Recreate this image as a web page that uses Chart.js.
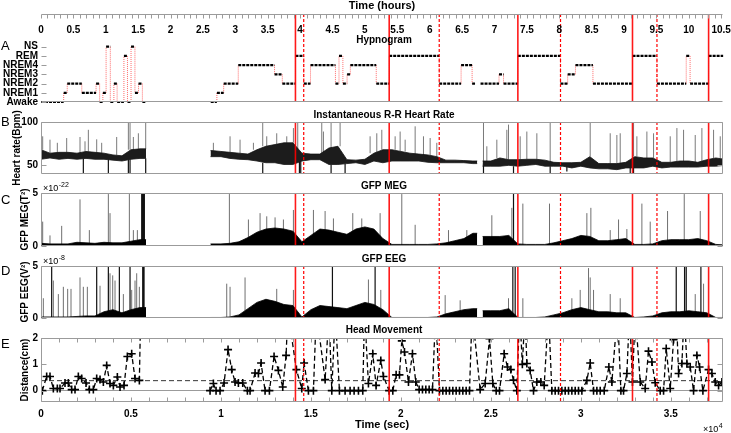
<!DOCTYPE html>
<html><head><meta charset="utf-8">
<script src="https://cdn.jsdelivr.net/npm/chart.js@4.4.1/dist/chart.umd.min.js"></script>
<style>
html,body{margin:0;padding:0;background:#fff;}
#wrap{position:relative;width:731px;height:433px;overflow:hidden;}
#wrap canvas{position:absolute;left:0;top:0;}
</style></head><body>
<div id="wrap">
<canvas id="cA" width="731" height="433"></canvas>
<canvas id="cB" width="731" height="433"></canvas>
<canvas id="cC" width="731" height="433"></canvas>
<canvas id="cD" width="731" height="433"></canvas>
<canvas id="cE" width="731" height="433"></canvas>
</div>
<script>
// ---------------- DATA ----------------
const XMAX = 37900; // seconds shown on the shared time axis
const stageNames = ['Awake','NREM1','NREM2','NREM3','NREM4','REM','NS'];
const remOnsetSec  = [14140, 19350, 26500, 32870, 37100];   // solid red lines
const remOffsetSec = [14600, 22130, 28870, 34230];          // dashed red lines

// hypnogram: stage hypStage[i] holds from hypT[i] to hypT[i+1] (hours)
const hypT = [0,0.35,0.405,0.63,0.85,0.905,0.955,1.005,1.07,1.125,1.175,1.28,1.335,1.39,1.45,1.505,1.565,1.61,2.62,2.715,
  2.82,3.045,3.605,3.725,3.928,4.057,4.16,4.545,4.60,4.66,4.725,4.775,5.175,5.375,6.147,6.485,6.655,6.70,6.785,7.07,
  7.14,7.361,8.019,8.13,8.25,8.52,9.131,9.508,9.96,10.02,10.306,10.53];
const hypStage = ['Awake','NREM1','NREM2','NREM1','NREM2','Awake','NREM1','NS','Awake','NREM2',
  'Awake','REM','Awake','NS','NREM1','NREM2','Awake',null,'Awake','NREM1',
  'NREM2','NREM4','NREM3','NREM2','REM','NREM2','NREM4','NREM2','REM','NREM2',
  'NREM3','NREM4','NREM2','REM','NREM2','NREM4','NREM2',null,'NREM2','NREM3',
  'NREM2','REM','NREM2','NREM3','NREM4','NREM2','REM','NREM2','REM','NREM2','REM'];

// envelope samples every binSec seconds (null = no recording)
const binSec = 500;
const gapsSec = [[5840, 9420], [24240, 24540]];
const hrHi = [68,64,65,65,64,66,65,64,62,61,
  68,69,null,null,null,null,null,null,null,67,
  66,65,64,63,68,72,74,76,76,64,
  63,63,70,72,56.5,56,57,64,68,68,
  66,64,63,62,60,56,56,55.5,55,null,
  55,58.5,56.5,56.5,57,57,56,53.5,53,53,
  53.5,60,52,52,52,53.5,60,58.5,58.5,53.5,
  53.5,55,55,53.5,56.5,58.5,57];
const hrLo = [57,58.5,57,58,57,58,57,57,56,55,
  57,58,null,null,null,null,null,null,null,60,
  60,58,57,56.5,55,53,53,51,51,55,
  56.5,56.5,51,51,52,53,51,55,53,55,
  55,55,55,53.5,53,53,53,53,52,null,
  49,49,50,49,50,51,49,49,49,47,
  49,47,46,46,45,47,47,47,49,47,
  48,48,48,48,49,49,50];
const hrSpikeT = [93,500,908,1427,2168,2353,2446,2631,3095,3372,3743,4206,4855,4855,4948,4948,5133,5411,5818,5818,
  9580,10506,11062,11804,12322,12322,12545,13100,13657,14027,14268,14361,14435,15602,15695,16121,16121,16622,16899,18289,
  18660,18939,19680,19958,20236,20792,21255,21626,21996,24590,24590,24776,25332,25887,25980,26258,26629,26999,27555,28296,
  28296,29223,30520,31632,32002,32188,32744,32929,32929,33114,33670,34041,34967,35338,35709,36357,36727,37376,37747];
const hrSpikeV = [83.5,79.6,76,81.5,82.7,40,77.7,91,80,76,40,82.7,100,40,100,40,82.7,87,100,40,
  76,83.5,79.6,76,100,40,83.5,87,83.5,93,100,40,40,100,89,100,40,99,40,83.5,
  87,91,83.5,89,79.6,95,83.5,81.5,76,100,40,72,79.6,91,97,40,83.5,89,87,100,
  40,43,100,87,85,87,40,100,40,83.5,89,87,83.5,93,91,85,93,91,83.5];

const megBody = [0.25,0.2,0.2,0.2,0.35,0.3,0.25,0.35,0.3,0.3,
  0.45,0.6,null,null,null,null,null,null,null,0.2,
  0.2,0.25,0.4,0.8,1.3,1.6,1.7,1.6,1.4,0.4,
  1.0,1.6,1.5,1.3,1.1,1.6,1.8,1.6,0.7,0.15,
  0.15,0.15,0.15,0.15,0.2,0.3,0.5,0.7,1.2,null,
  0.9,0.9,1.0,0.2,0.15,0.15,0.15,0.3,0.5,0.7,
  1.0,0.9,0.5,0.5,0.6,0.7,0.15,0.15,0.2,0.5,
  0.6,0.6,0.6,0.7,0.5,0.15,0.1];
const megSpikeT = [93,500,1149,2168,2687,3743,3836,4911,5133,5355,5596,5633,5670,5707,5744,
  10469,11526,12174,12545,13008,13471,14027,15139,15788,16251,17326,17826,18845,20050,20792,
  22645,23664,25054,26166,26258,26777,28259,30335,30557,31632,32095,32558,33392,33855,34819,35746,36635];
const megSpikeV = [2.3,1.0,1.9,4.4,1.5,4.9,3.1,4.9,1.5,1.5,5.3,5.3,5.3,5.3,5.3,
  4.9,2.5,3.1,2.8,2.7,2.5,3.4,3.4,3.3,2.6,3.1,2.6,3.1,4.9,2.0,
  1.5,1.5,2.9,3.6,5.0,4.0,4.0,3.1,3.6,1.5,2.5,1.6,4.0,2.3,3.3,4.9,3.3];

const eegBody = [0.1,0.1,0.1,0.1,0.15,0.2,0.2,0.6,0.8,0.5,
  0.8,1.0,null,null,null,null,null,null,null,0.05,
  0.05,0.1,0.3,0.9,1.5,1.8,1.6,1.3,1.2,0.1,
  0.8,1.2,1.1,1.0,0.9,1.2,1.5,1.3,0.8,0.05,
  0.05,0.05,0.05,0.05,0.1,0.4,0.6,0.8,0.9,null,
  0.7,0.7,0.9,0.05,0.05,0.05,0.1,0.3,0.5,0.8,
  1.0,0.8,0.6,0.6,0.5,0.5,0.05,0.1,0.2,0.5,
  0.6,0.6,0.7,0.6,0.5,0.05,0.05];
const eegSpikeT = [130,593,686,964,1242,1482,1668,2168,2353,2576,3095,3280,3743,3836,3984,4114,4355,4577,4948,5040,
  5225,5318,5466,5652,5689,5726,10321,10506,11340,13100,14027,16195,18196,18567,18883,22460,23293,25980,26221,26351,
  26777,29501,29964,30427,30520,30706,31632,32188,35301,35764,35857,36357,36672,36820];
const eegSpikeV = [1.9,5.0,3.6,2.3,3.0,2.8,2.8,3.9,3.0,3.0,5.0,3.1,5.0,4.3,4.1,3.6,5.0,2.3,5.0,2.7,
  3.6,4.3,3.0,5.3,5.3,5.3,3.3,3.0,3.9,2.8,2.7,5.0,3.7,5.0,2.7,2.2,1.7,1.9,5.0,5.0,
  1.9,1.9,2.7,4.8,3.9,2.7,2.3,1.9,5.0,5.0,5.0,2.3,5.0,3.3];

// head movement (cm); values above 2 leave the plotted range
const headT = [74,315,500,686,908,1056,1334,1519,1705,1890,2075,2261,2502,2687,2909,
  3095,3280,3465,3650,3836,4021,4243,4392,4614,4799,5040,5225,5466,5540,7000,
  9395,9580,9728,9950,10173,10395,10599,10784,10970,11211,11470,11618,11896,12082,12230,
  12452,12693,12952,13193,13434,13620,13720,14194,14491,14620,14861,15139,15300,15790,16000,
  16160,16350,16585,16899,17177,17400,17641,17881,17980,18196,18437,18623,18883,19031,19346,
  19550,19735,19921,20050,20199,20421,20643,20829,21014,21199,21385,21570,21755,21930,22144,
  22330,22515,22700,22886,23071,23256,23442,23627,23812,23960,24405,24683,24924,25109,25295,
  25480,25739,25924,26110,26258,26443,26600,26750,26900,26999,27185,27370,27555,27778,27963,
  28204,28389,28574,28759,28945,29130,29315,29501,29686,29871,30057,30335,30520,30706,30891,
  31076,31298,31558,31724,32039,32225,32373,32558,32706,32870,33020,33300,33577,33760,33948,
  34133,34411,34597,34745,34968,35153,35301,35431,35616,35746,35894,36079,36264,36450,36598,
  36783,37098,37284,37469,37654,37840];
const headV = [0,0.54,0.54,0.08,0.08,0.08,0.29,0.29,0.04,0.04,0.54,0.46,0.29,0.04,0.04,
  0.46,0.42,0.33,0.96,0.27,0.2,0.52,0.14,0.2,1.3,1.4,0.46,0.39,3,null,
  0,0.27,0,0,0.29,1.56,0.8,0.33,0.29,0.29,0,0,0.67,0.65,1.05,
  0,0,1.3,0.77,0.14,1.34,3,0.8,0.08,1.05,0,0,3,0.42,3,
  0,3,0,0,0,0,0,0,3,0.27,1.4,0.2,1.15,0.54,0,
  0,0.6,0.6,1.89,1.47,0.33,1.4,0.33,0.04,0.04,0.04,0.04,0.04,3,0,
  0,0,0,0,0,0,0,0,0,3,0.04,0.27,1.97,0.27,0,
  0,1.4,0.9,0.8,0.4,0,3,1.0,3,1.03,0.77,0,0.33,0.33,0.2,
  3,0,0,0,0,0,0,0,0,0,0,0.39,1.05,0,0,
  0,0,0.9,0.33,3,0,0,0.65,3,0.33,3,0.33,0.08,1.5,1.09,
  0.3,0,0,1.6,0.08,1.94,3,0.65,1.03,3,1.03,0.9,0,1.34,0.9,
  0,0.8,0.65,0.33,0.2,0.33];
const headThreshold = 0.38;

// axis tick labels
const hourLabels = [0,0.5,1,1.5,2,2.5,3,3.5,4,4.5,5,5.5,6,6.5,7,7.5,8,8.5,9,9.5,10,10.5];
const secLabelVals = [0,5000,10000,15000,20000,25000,30000,35000];
const secLabelText = ['0','0.5','1','1.5','2','2.5','3','3.5'];
const hrTicks = [50,100];
const gfpTicks = [0,5];
const headTicks = [0,1,2];

// ---------------- BUILDERS ----------------
const GRAY = '#9b9b9b';
function envelope(vals){
  const pts=[]; let prevT=null, prevV=null;
  for(let i=0;i<vals.length;i++){
    const t=i*binSec, v=vals[i];
    for(const [g0,g1] of gapsSec){
      if(prevT!==null && g0>prevT && g0<=t){ if(prevV!=null) pts.push({x:g0,y:prevV}); pts.push({x:g0,y:null}); }
      if(prevT!==null && g1>prevT && g1<=t && v!=null){ pts.push({x:g1,y:v}); }
    }
    if(v!=null) pts.push({x:t,y:v});
    prevT=t; prevV=v;
  }
  return pts;
}
function nearestBin(arr,t){
  let i=Math.round(t/binSec);
  for(let d=0; d<20; d++){
    if(arr[i-d]!=null) return arr[i-d];
    if(arr[i+d]!=null) return arr[i+d];
  }
  return 0;
}
function spikes(T,V,baseFn,filter){
  const pts=[];
  T.forEach((t,i)=>{ if(filter && !filter(V[i])) return; pts.push({x:t,y:baseFn(t,V[i])},{x:t,y:V[i]},{x:t,y:null}); });
  return pts;
}
function hypRuns(){
  const pts=[];
  hypStage.forEach((s,i)=>{ if(s==null) return; const l=stageNames.indexOf(s);
    pts.push({x:hypT[i]*3600,y:l},{x:hypT[i+1]*3600,y:l},{x:hypT[i+1]*3600,y:null}); });
  return pts;
}
function hypJumps(){
  const pts=[];
  for(let i=0;i<hypStage.length-1;i++){
    const a=hypStage[i], b=hypStage[i+1]; if(a==null||b==null) continue;
    const t=hypT[i+1]*3600;
    pts.push({x:t,y:stageNames.indexOf(a)},{x:t,y:stageNames.indexOf(b)},{x:t,y:null});
  }
  return pts;
}

// ---------------- DECORATION PLUGIN ----------------
const FONT = '"Liberation Sans", Arial, Helvetica, sans-serif';
function drawExp(ctx,x,yb,exp){
  ctx.font='9px '+FONT; ctx.textAlign='left'; ctx.textBaseline='alphabetic';
  ctx.fillStyle='#000'; ctx.fillText('\u00d710',x,yb);
  const w=ctx.measureText('\u00d710').width;
  ctx.font='7px '+FONT; ctx.fillText(exp,x+w+0.5,yb-4);
}
const deco = {
  id:'deco',
  afterDatasetsDraw(chart,args,o){
    if(!o || !o.title) return;
    const {ctx, chartArea:a} = chart, sx=chart.scales.x;
    ctx.save();
    ctx.beginPath(); ctx.rect(a.left,a.top,a.right-a.left,a.bottom-a.top); ctx.clip();
    ctx.strokeStyle='rgba(255,0,0,0.9)'; ctx.lineWidth=1.6; ctx.setLineDash([]);
    remOnsetSec.forEach(t=>{const p=sx.getPixelForValue(t); ctx.beginPath(); ctx.moveTo(p,a.top); ctx.lineTo(p,a.bottom); ctx.stroke();});
    ctx.strokeStyle='#ff0000'; ctx.lineWidth=1.2; ctx.setLineDash([3,2]);
    remOffsetSec.forEach(t=>{const p=sx.getPixelForValue(t); ctx.beginPath(); ctx.moveTo(p,a.top); ctx.lineTo(p,a.bottom); ctx.stroke();});
    ctx.restore();
  },
  afterDraw(chart,args,o){
    if(!o || !o.title) return;
    const {ctx, chartArea:a, scales} = chart;
    const L=Math.round(a.left)+0.5, R=Math.round(a.right)-0.5, T=Math.round(a.top)+0.5, B=Math.round(a.bottom)-0.5;
    ctx.save();
    ctx.strokeStyle=GRAY; ctx.lineWidth=1; ctx.setLineDash([]);
    ctx.beginPath();
    if(o.box==='full'){ ctx.rect(L,T,R-L,B-T); }
    else { ctx.moveTo(L,B); ctx.lineTo(R,B); ctx.moveTo(L,T); ctx.lineTo(R,T); }
    const sy=scales.y;
    sy.ticks.forEach(tk=>{ const p=Math.round(sy.getPixelForValue(tk.value))+0.5;
      ctx.moveTo(L,p); ctx.lineTo(L+5,p);
      if(o.box==='full'){ ctx.moveTo(R,p); ctx.lineTo(R-5,p); } });
    if(o.hours){ const sh=scales.xh; sh.ticks.forEach(tk=>{const p=Math.round(sh.getPixelForValue(tk.value))+0.5; ctx.moveTo(p,T); ctx.lineTo(p,T+4);}); }
    if(o.xTicks){ const sx=scales.x; sx.ticks.forEach(tk=>{const p=Math.round(sx.getPixelForValue(tk.value))+0.5; ctx.moveTo(p,B); ctx.lineTo(p,B-4); ctx.moveTo(p,T); ctx.lineTo(p,T+4);}); }
    ctx.stroke();
    ctx.fillStyle='#000';
    // hour tick labels (drawn below the top axis line, as in the original)
    if(o.hours){
      const sh=scales.xh;
      ctx.font='bold 10px '+FONT; ctx.textAlign='center'; ctx.textBaseline='middle';
      sh.ticks.forEach(tk=>{ if(tk.label) ctx.fillText(tk.label, sh.getPixelForValue(tk.value), o.hourLabelY); });
    }
    // panel title
    ctx.font='bold 10px '+FONT; ctx.textAlign='center'; ctx.textBaseline='middle';
    ctx.fillText(o.title,(a.left+a.right)/2+2,o.titleY);
    // panel letter
    ctx.font='13px '+FONT; ctx.textAlign='left';
    ctx.fillText(o.letter,1,o.letterY);
    if(o.exp) drawExp(ctx,a.left+2,a.top-2,o.exp);
    if(o.exp4) drawExp(ctx,703,432,'4');
    ctx.restore();
  }
};
Chart.register(deco);
Chart.defaults.font.family = FONT;
Chart.defaults.font.size = 10;
Chart.defaults.font.weight = 'bold';
Chart.defaults.color = '#000';

// ---------------- SCALES ----------------
const xHidden = {type:'linear',min:0,max:XMAX,display:false};
function yAxis(min,max,tickVals,title,titlePad,labelFn){
  return {type:'linear',min,max,position:'left',
    afterFit:s=>{s.width=41;},
    afterBuildTicks:s=>{s.ticks=tickVals.map(v=>({value:v}));},
    ticks:{padding:3,autoSkip:false,callback:labelFn||(v=>String(v))},
    grid:{display:false,drawTicks:false},
    border:{display:false},
    title:{display:!!title,text:title||'',padding:{top:titlePad||0,bottom:0},font:{size:10,weight:'bold'}}};
}
function make(id,pad,datasets,scales,decoOpts){
  return new Chart(document.getElementById(id),{
    type:'line', data:{datasets},
    options:{responsive:false,animation:false,devicePixelRatio:1,events:[],
      layout:{padding:pad}, scales,
      elements:{point:{radius:0},line:{tension:0}},
      plugins:{legend:{display:false},tooltip:{enabled:false},deco:decoOpts}}
  });
}
const hourMinor = []; for(let i=0;i<=105;i++) hourMinor.push(i/10);
const secMinor = []; for(let i=0;i<=37;i++) secMinor.push(i*1000);

// ---------------- PANEL A ----------------
make('cA',{left:0,right:8,top:0,bottom:331},[
  {data:hypRuns(),xAxisID:'x',yAxisID:'y',borderColor:'#000',borderWidth:2.2,borderDash:[3,1],spanGaps:false,clip:4},
  {data:hypJumps(),xAxisID:'x',yAxisID:'y',borderColor:'#ff6b6b',borderWidth:1,borderDash:[1,1],spanGaps:false}
],{
  x:xHidden,
  xh:{type:'linear',position:'top',min:0,max:XMAX/3600,
    afterFit:s=>{s.height=14;},
    afterBuildTicks:s=>{s.ticks=hourMinor.map(v=>({value:v}));},
    ticks:{autoSkip:false,maxRotation:0,minRotation:0,padding:0,color:'rgba(0,0,0,0)',
      callback:v=>hourLabels.some(h=>Math.abs(h-v)<1e-6)?String(Math.round(v*10)/10):''},
    grid:{display:false,drawTicks:false},border:{display:false},
    title:{display:true,text:'Time (hours)',font:{size:11,weight:'bold'},padding:{top:-1,bottom:0}}},
  y:yAxis(0,9.55,stageNames.map((n,i)=>i),null,0,v=>stageNames[v])
},{box:'bottom',hours:true,hourLabelY:30,title:'Hypnogram',titleY:40,letter:'A',letterY:46});

// ---------------- PANEL B ----------------
make('cB',{left:0,right:8,top:122,bottom:259},[
  {data:envelope(hrHi),borderColor:'#111',borderWidth:0.8,backgroundColor:'#1c1c1c',fill:'+1'},
  {data:envelope(hrLo),borderColor:'#111',borderWidth:0.8,fill:false},
  {data:spikes(hrSpikeT,hrSpikeV,(t,v)=>nearestBin(hrHi,t),v=>v>60),borderColor:'#7a7a7a',borderWidth:1,spanGaps:false},
  {data:spikes(hrSpikeT,hrSpikeV,(t,v)=>nearestBin(hrLo,t),v=>v<=60),borderColor:'#111',borderWidth:1.2,spanGaps:false}
],{x:xHidden,y:yAxis(40,100,hrTicks,'Heart rate(Bpm)',11)},
{box:'full',title:'Instantaneous R-R Heart Rate',titleY:115,letter:'B',letterY:122});

// ---------------- PANEL C ----------------
make('cC',{left:0,right:8,top:193,bottom:187},[
  {data:envelope(megBody),borderColor:'#000',borderWidth:0.8,backgroundColor:'#000',fill:'origin'},
  {data:spikes(megSpikeT,megSpikeV,()=>0,v=>v<5),borderColor:'#707070',borderWidth:1,spanGaps:false},
  {data:spikes(megSpikeT,megSpikeV,()=>0,v=>v>=5),borderColor:'#111',borderWidth:1.2,spanGaps:false}
],{x:xHidden,y:yAxis(0,5,gfpTicks,'GFP MEG(T\u00b2)',19)},
{box:'full',title:'GFP MEG',titleY:186,letter:'C',letterY:200,exp:'-22'});

// ---------------- PANEL D ----------------
make('cD',{left:0,right:8,top:266,bottom:115},[
  {data:envelope(eegBody),borderColor:'#000',borderWidth:0.8,backgroundColor:'#000',fill:'origin'},
  {data:spikes(eegSpikeT,eegSpikeV,()=>0,v=>v<5),borderColor:'#707070',borderWidth:1,spanGaps:false},
  {data:spikes(eegSpikeT,eegSpikeV,()=>0,v=>v>=5),borderColor:'#111',borderWidth:1.2,spanGaps:false}
],{x:xHidden,y:yAxis(0,5,gfpTicks,'GFP EEG(V\u00b2)',19)},
{box:'full',title:'GFP EEG',titleY:259,letter:'D',letterY:271,exp:'-8'});

// ---------------- PANEL E ----------------
const eY = yAxis(-0.43,2,headTicks,'Distance(cm)',19);
eY.grid = {display:true,drawTicks:false,drawOnChartArea:true,color:c=>(c.tick&&c.tick.value===0)?GRAY:'rgba(0,0,0,0)'};
make('cE',{left:0,right:8,top:338,bottom:0},[
  {data:headT.map((t,i)=>({x:t,y:headV[i]})),borderColor:'#000',borderWidth:1.3,borderDash:[5,3],spanGaps:false,
    pointStyle:'cross',pointRadius:4,pointBorderWidth:1.6,pointBorderColor:'#000',pointBackgroundColor:'#000'},
  {data:[{x:0,y:headThreshold},{x:XMAX,y:headThreshold}],borderColor:'#333',borderWidth:1,borderDash:[5,3]}
],{
  x:{type:'linear',position:'bottom',min:0,max:XMAX,
    afterFit:s=>{s.height=31;},
    afterBuildTicks:s=>{s.ticks=secMinor.map(v=>({value:v}));},
    ticks:{autoSkip:false,maxRotation:0,minRotation:0,padding:6,
      callback:v=>{const k=secLabelVals.indexOf(v); return k>=0?secLabelText[k]:'';}},
    grid:{display:false,drawTicks:false},border:{display:false},
    title:{display:true,text:'Time (sec)',font:{size:11,weight:'bold'},padding:{top:0,bottom:1}}},
  y:eY
},{box:'full',title:'Head Movement',titleY:330,letter:'E',letterY:344,xTicks:true,exp4:true});
</script>
</body></html>
